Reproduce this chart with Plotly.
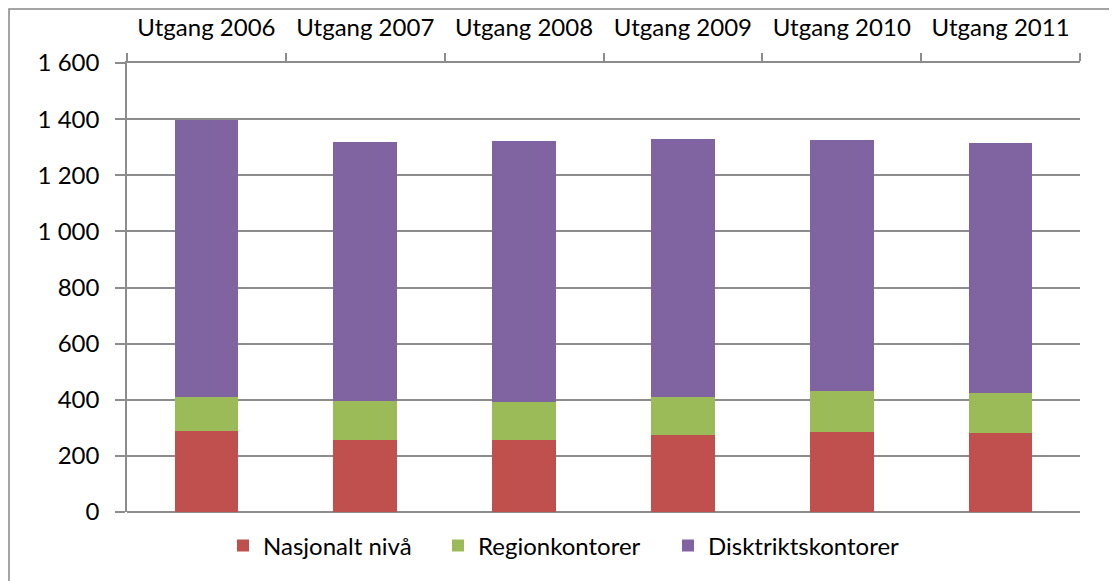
import plotly.graph_objects as go

categories = ["Utgang 2006", "Utgang 2007", "Utgang 2008", "Utgang 2009", "Utgang 2010", "Utgang 2011"]
nasjonalt = [290, 258, 258, 276, 286, 283]
region = [120, 139, 134, 133, 145, 140]
distrikt = [986, 921, 930, 920, 895, 892]
series_names = ["Nasjonalt nivå", "Regionkontorer", "Disktriktskontorer"]
tick_vals = [0, 200, 400, 600, 800, 1000, 1200, 1400, 1600]
tick_text = ["0", "200", "400", "600", "800", "1 000", "1 200", "1 400", "1 600"]

colors = ["#C0504D", "#9BBB59", "#8064A2"]
FONT = "Lato, 'Open Sans', sans-serif"
GRID = "#8c8c8c"
FS = 24

# page body has an 8px margin, so the figure is offset by (8, 8)
W, H = 1109, 573
L, T, R, B = 119, 55, 37, 69
pw, ph = W - L - R, H - T - B

legend_ids = ["legend", "legend2", "legend3"]
legend_px = [223, 438, 668]  # page x of each legend box

fig = go.Figure()
for name, vals, col, lid in zip(series_names, [nasjonalt, region, distrikt], colors, legend_ids):
    fig.add_trace(go.Bar(x=categories, y=vals, name=name, marker_color=col,
                         marker_line_width=0, width=0.4, legend=lid))

leg_y = -(546 - 512) / ph
legends = {}
for lid, px in zip(legend_ids, legend_px):
    legends[lid] = dict(orientation="h", x=(px - 8 - L) / pw, xanchor="left",
                        y=leg_y, yanchor="middle", font=dict(size=FS),
                        bgcolor="rgba(0,0,0,0)")

fig.update_layout(
    barmode="stack",
    width=W, height=H,
    margin=dict(l=L, r=R, t=T, b=B, autoexpand=False),
    paper_bgcolor="white", plot_bgcolor="white",
    font=dict(family=FONT, size=FS, color="black"),
    hovermode=False,
    showlegend=True,
    xaxis=dict(side="top", type="category", showline=True, linecolor=GRID, linewidth=1.5,
               ticks="outside", tickson="boundaries", ticklen=8, tickcolor=GRID, tickwidth=1.5,
               showgrid=False, tickfont=dict(size=FS), ticklabelstandoff=16, automargin=False),
    yaxis=dict(range=[0, 1600], tickvals=tick_vals, ticktext=tick_text,
               showline=True, linecolor=GRID, linewidth=1.5,
               ticks="outside", ticklen=10, tickcolor=GRID, tickwidth=1.5,
               showgrid=True, gridcolor=GRID, gridwidth=1.5,
               zeroline=True, zerolinecolor=GRID, zerolinewidth=1.5,
               tickfont=dict(size=FS), ticklabelstandoff=11, automargin=False),
    **legends,
)

# chart border (top and left visible)
fig.add_shape(type="path", xref="paper", yref="paper",
              path=f"M {(1 - L) / pw} {-(H - T) / ph} L {(1 - L) / pw} {1 + (T - 1) / ph} L {(W - L + 10) / pw} {1 + (T - 1) / ph}",
              line=dict(color="#868686", width=1.5))

fig.write_html("out.html")
